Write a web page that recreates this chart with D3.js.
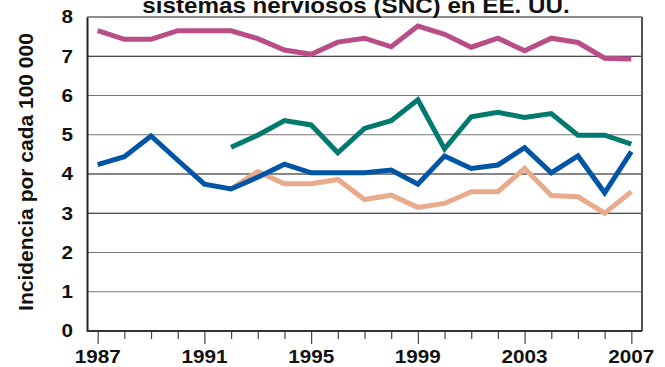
<!DOCTYPE html>
<html>
<head>
<meta charset="utf-8">
<script src="https://cdn.jsdelivr.net/npm/d3@7"></script>
<style>
  body { margin: 0; background: #fff; }
  text { font-family: "Liberation Sans", Arial, sans-serif; font-weight: bold; fill: #111; }
</style>
</head>
<body>
<div id="chart"></div>
<script>
const years = d3.range(1987, 2008);
const labelYears = [1987, 1991, 1995, 1999, 2003, 2007];
const yTicks = [0, 1, 2, 3, 4, 5, 6, 7, 8];

// valores por año (null = sin dato)
const magenta = [7.65, 7.43, 7.43, 7.65, 7.65, 7.65, 7.45, 7.16, 7.05, 7.36, 7.46,
                 7.24, 7.77, 7.56, 7.23, 7.46, 7.14, 7.46, 7.35, 6.95, 6.93];
const teal = [null, null, null, null, null, 4.68, 4.99, 5.36, 5.25, 4.54, 5.16,
              5.36, 5.89, 4.64, 5.46, 5.57, 5.44, 5.54, 4.99, 4.99, 4.76];
const blue = [4.24, 4.44, 4.97, 4.35, 3.74, 3.62, 3.92, 4.25, 4.03, 4.03, 4.03,
              4.10, 3.74, 4.46, 4.14, 4.23, 4.67, 4.03, 4.46, 3.52, 4.57];
const salmon = [null, null, null, null, null, 3.62, 4.06, 3.75, 3.75, 3.86, 3.35,
                3.46, 3.15, 3.25, 3.55, 3.55, 4.14, 3.45, 3.42, 3.00, 3.55];

const series = [
  {name: "magenta", values: magenta, color: "#b94d87"},
  {name: "teal", values: teal, color: "#00796e"},
  {name: "salmon", values: salmon, color: "#e8ab8b"},
  {name: "blue", values: blue, color: "#0055a5"}
];

const W = 665, H = 367;
const margin = {top: 17, right: 23, bottom: 36, left: 87};
const width = W - margin.left - margin.right;
const height = H - margin.top - margin.bottom;
const stretch = 1.15; // the source type is a bit wide

const svg = d3.select("#chart").append("svg")
    .attr("width", W)
    .attr("height", H);

const g = svg.append("g")
    .attr("transform", `translate(${margin.left},${margin.top})`);

const x = d3.scaleLinear().domain([1986.6, 2007.4]).range([0, width]);
const y = d3.scaleLinear().domain([0, 8]).range([height, 0]);

// gridlines
const darkLines = [3, 4, 7];
g.selectAll(".grid")
    .data(yTicks.filter(d => d > 0 && d < 8))
    .enter().append("line")
    .attr("x1", 0).attr("x2", width)
    .attr("y1", d => y(d)).attr("y2", d => y(d))
    .attr("stroke", d => darkLines.includes(d) ? "#111" : "#777")
    .attr("stroke-width", 1.2);

// frame top / right
g.append("line").attr("x1", 0).attr("x2", width).attr("y1", 0).attr("y2", 0)
    .attr("stroke", "#666").attr("stroke-width", 1.5);
g.append("line").attr("x1", width).attr("x2", width).attr("y1", 0).attr("y2", height)
    .attr("stroke", "#555").attr("stroke-width", 2);

// y axis
const yAxis = g.append("g")
    .call(d3.axisLeft(y).tickValues(yTicks).tickSize(0).tickFormat(""));
yAxis.select(".domain").attr("stroke", "#222").attr("stroke-width", 2);

g.selectAll(".ylabel")
    .data(yTicks)
    .enter().append("text")
    .attr("transform", d => `translate(-14,${y(d)}) scale(${stretch},1)`)
    .attr("dy", "0.36em")
    .attr("text-anchor", "end")
    .style("font-size", "18px")
    .text(d => d);

// x axis
const xAxis = g.append("g")
    .attr("transform", `translate(0,${height})`)
    .call(d3.axisBottom(x).tickValues(years).tickSize(8).tickFormat(""));
xAxis.select(".domain").remove();
xAxis.selectAll(".tick line")
    .attr("stroke", "#444")
    .attr("stroke-width", 1.2)
    .attr("y2", d => labelYears.includes(d) ? 13 : 8);
g.append("line").attr("x1", 0).attr("x2", width).attr("y1", height).attr("y2", height)
    .attr("stroke", "#333").attr("stroke-width", 2);

g.selectAll(".xlabel")
    .data(labelYears)
    .enter().append("text")
    .attr("transform", d => `translate(${x(d)},${height + 32}) scale(${stretch},1)`)
    .attr("text-anchor", "middle")
    .style("font-size", "18px")
    .text(d => d);

// lines
const line = d3.line()
    .defined(d => d.v !== null)
    .x(d => x(d.year))
    .y(d => y(d.v));

g.selectAll(".series")
    .data(series)
    .enter().append("path")
    .attr("fill", "none")
    .attr("stroke", d => d.color)
    .attr("stroke-width", 5)
    .attr("stroke-linejoin", "miter")
    .attr("d", d => line(d.values.map((v, i) => ({year: years[i], v: v}))));

// title (cut at top, as in the source)
svg.append("text")
    .attr("transform", "translate(356,13) scale(1.1,1)")
    .attr("text-anchor", "middle")
    .style("font-size", "22px")
    .text("sistemas nerviosos (SNC) en EE. UU.");

// y axis title
svg.append("text")
    .attr("transform", "translate(33,172) rotate(-90)")
    .attr("text-anchor", "middle")
    .style("font-size", "21px")
    .text("Incidencia por cada 100 000");
</script>
</body>
</html>
